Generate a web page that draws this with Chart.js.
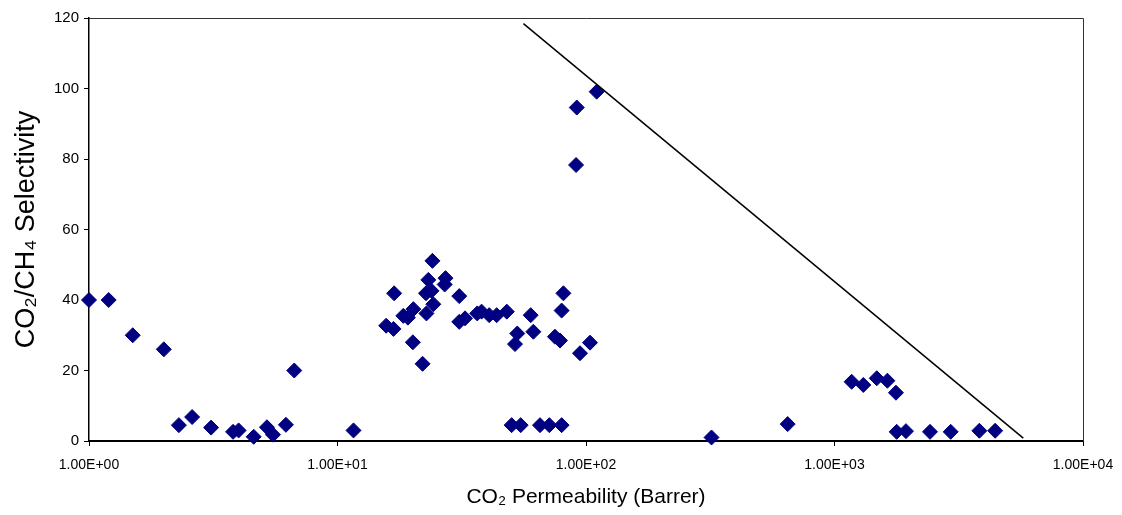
<!DOCTYPE html>
<html>
<head>
<meta charset="utf-8">
<script src="https://cdn.jsdelivr.net/npm/chart.js@4.4.0/dist/chart.umd.min.js"></script>
<style>
    html, body { margin: 0; padding: 0; background: #fff; }
    #wrap { width: 1122px; height: 515px; }
</style>
</head>
<body>
<div id="wrap"><canvas id="chart" width="1122" height="515"></canvas></div>
<script>
// CO2 permeability (Barrer) and CO2/CH4 selectivity
var permeability = [
    1.0, 1.2, 1.5, 2.0, 2.3, 2.6, 3.1, 3.8, 4.0, 4.6, 5.2, 5.5, 6.2, 6.7, 11.6,
    15.7, 16.8, 16.9, 18.4, 19.2, 20.2, 20.1, 22.0, 22.7, 22.8, 23.2, 23.9, 24.1, 24.3,
    27.0, 27.2, 30.9, 30.9, 32.6, 36.5, 38.0, 40.8, 43.7, 48.0, 50.2, 51.8, 52.9, 54.6,
    59.9, 61.4, 65.3, 71.2, 75.0, 78.6, 79.8, 79.8, 81.1, 91.2, 91.8, 94.6, 103.8, 110.4,
    320, 648, 1172, 1306, 1479, 1632, 1767, 1779, 1939, 2423, 2935, 3828, 4430
];
var selectivity = [
    40, 40, 30, 26, 4.5, 6.8, 3.8, 2.6, 3.0, 1.2, 3.9, 1.8, 4.6, 20, 3.0,
    32.7, 31.8, 41.9, 35.5, 35.0, 37.4, 28.0, 21.9, 41.9, 36.2, 45.7, 42.6, 51.1, 38.8,
    44.4, 46.2, 41.1, 33.8, 34.8, 36.2, 36.7, 35.7, 35.7, 36.7, 4.5, 27.5, 30.5, 4.5,
    35.7, 31.0, 4.5, 4.5, 29.6, 28.5, 37.0, 4.5, 41.9, 78.3, 94.6, 24.9, 27.9, 99.1,
    1.0, 4.8, 16.8, 15.9, 17.8, 17.1, 13.7, 2.6, 2.8, 2.6, 2.6, 2.9, 2.9
];

// upper bound line (two end points)
var boundX = [56, 5750];
var boundY = [118.4, 0.8];

var xTicks = [1, 10, 100, 1000, 10000];
var xTickLabels = ['1.00E+00', '1.00E+01', '1.00E+02', '1.00E+03', '1.00E+04'];

var points = permeability.map(function (p, i) { return { x: p, y: selectivity[i] }; });
var boundPoints = boundX.map(function (p, i) { return { x: p, y: boundY[i] }; });

// thin frame on top and right of the plot area
var frame = {
    id: 'frame',
    afterDraw: function (chart) {
        var a = chart.chartArea, ctx = chart.ctx;
        ctx.save();
        ctx.strokeStyle = '#333';
        ctx.lineWidth = 1;
        ctx.beginPath();
        ctx.moveTo(a.left, a.top + 0.5);
        ctx.lineTo(a.right + 0.5, a.top + 0.5);
        ctx.lineTo(a.right + 0.5, a.bottom);
        ctx.stroke();
        ctx.restore();
    }
};

var tickFont = { family: "'Liberation Sans Narrow', 'Liberation Sans', Arial, sans-serif", size: 14 };

new Chart(document.getElementById('chart'), {
    type: 'scatter',
    data: {
        datasets: [
            {
                label: 'bound',
                data: boundPoints,
                showLine: true,
                borderColor: '#000',
                borderWidth: 1.5,
                pointRadius: 0,
                fill: false
            },
            {
                label: 'membranes',
                data: points,
                pointStyle: 'rectRot',
                pointRadius: 7.5,
                pointHoverRadius: 7.5,
                backgroundColor: '#000080',
                borderColor: '#000080',
                borderWidth: 1,
                clip: false
            }
        ]
    },
    options: {
        responsive: false,
        animation: false,
        layout: { padding: { top: 18, right: 39, left: 0, bottom: 0 } },
        plugins: {
            legend: { display: false },
            tooltip: { enabled: false }
        },
        scales: {
            x: {
                type: 'logarithmic',
                min: 1,
                max: 10000,
                afterBuildTicks: function (scale) {
                    scale.ticks = xTicks.map(function (v) { return { value: v, major: true }; });
                },
                afterFit: function (scale) {
                    scale.height = 74;
                    scale.paddingLeft = 0;
                    scale.paddingRight = 0;
                },
                ticks: {
                    color: '#000',
                    font: tickFont,
                    padding: 11,
                    maxRotation: 0,
                    autoSkip: false,
                    callback: function (v, i) { return xTickLabels[i]; }
                },
                grid: {
                    drawOnChartArea: false,
                    drawTicks: true,
                    tickLength: 5,
                    color: '#000'
                },
                border: { display: true, color: '#000', width: 2 },
                title: {
                    display: true,
                    text: 'CO₂ Permeability (Barrer)',
                    color: '#000',
                    font: { family: "'Liberation Sans', Arial, sans-serif", size: 21 },
                    padding: { top: 0, bottom: 5 }
                }
            },
            y: {
                min: 0,
                max: 120,
                afterFit: function (scale) { scale.width = 89; },
                ticks: {
                    stepSize: 20,
                    color: '#000',
                    font: { family: "'Liberation Sans', Arial, sans-serif", size: 15 },
                    padding: 5
                },
                grid: {
                    drawOnChartArea: false,
                    drawTicks: true,
                    tickLength: 5,
                    color: '#000'
                },
                border: { display: true, color: '#000', width: 1.5 },
                title: {
                    display: true,
                    text: 'CO₂/CH₄ Selectivity',
                    color: '#000',
                    font: { family: "'Liberation Sans', Arial, sans-serif", size: 27 },
                    padding: { top: 10, bottom: 4 }
                }
            }
        }
    },
    plugins: [frame]
});
</script>
</body>
</html>
